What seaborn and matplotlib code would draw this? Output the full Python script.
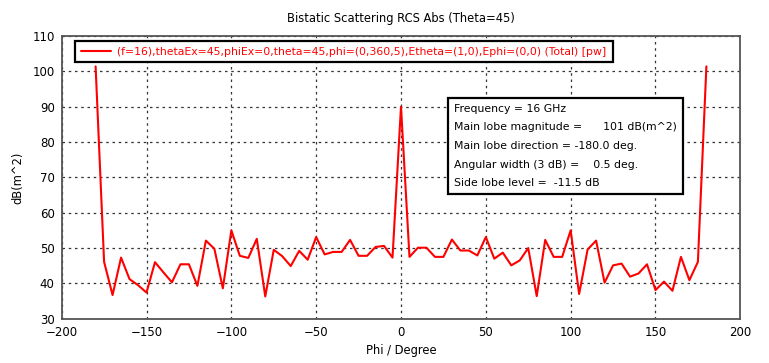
import matplotlib
matplotlib.use('Agg')
import matplotlib.pyplot as plt
import pandas as pd
import seaborn as sns

sns.set_style("white")
plt.rcParams['font.family'] = ['DejaVu Sans']
plt.rcParams['text.color'] = 'black'
plt.rcParams['axes.labelcolor'] = 'black'
plt.rcParams['xtick.color'] = 'black'
plt.rcParams['ytick.color'] = 'black'

# phi sweep mapped to -180..180 deg, step 5
phi = list(range(-180, 185, 5))
rcs = [101.4, 46.1, 36.7, 47.3, 41.2, 39.5, 37.4, 46.0, 43.1, 40.3,
       45.4, 45.4, 39.3, 52.1, 49.8, 38.6, 55.0, 47.8, 47.2, 52.6,
       36.3, 49.5, 47.7, 44.9, 49.2, 46.7, 53.1, 48.2, 48.9, 48.9,
       52.3, 47.8, 47.8, 50.3, 50.6, 47.3, 90.0, 47.5, 50.1, 50.1,
       47.5, 47.5, 52.4, 49.3, 49.3, 47.9, 53.1, 47.0, 48.7, 45.1,
       46.5, 50.0, 36.4, 52.3, 47.5, 47.5, 55.0, 37.0, 49.6, 52.1,
       40.2, 45.1, 45.6, 41.9, 42.8, 45.4, 38.1, 40.5, 37.9, 47.5,
       40.9, 46.1, 101.4]

legend_label = "(f=16),thetaEx=45,phiEx=0,theta=45,phi=(0,360,5),Etheta=(1,0),Ephi=(0,0) (Total) [pw]"
info_lines = [
    "Frequency = 16 GHz",
    "Main lobe magnitude =      101 dB(m^2)",
    "Main lobe direction = -180.0 deg.",
    "Angular width (3 dB) =    0.5 deg.",
    "Side lobe level =  -11.5 dB",
]

df = pd.DataFrame({'phi': phi, 'rcs': rcs})

fig = plt.figure(figsize=(7.69, 3.63), dpi=100)
ax = fig.add_axes([0.0802, 0.122, 0.8825, 0.7788])

sns.lineplot(data=df, x='phi', y='rcs', ax=ax, color='#ff0000', linewidth=1.5,
             label=legend_label)

ax.set_xlim(-200, 200)
ax.set_ylim(30, 110)
ax.set_xticks(range(-200, 201, 50))
ax.set_yticks(range(30, 111, 10))
ax.grid(True, linestyle=(0, (2, 3)), color='#333333', linewidth=0.9)
for s in ax.spines.values():
    s.set_color('#555555')
    s.set_linewidth(1.3)
ax.tick_params(axis='both', direction='out', length=3, width=1, color='#555555',
               labelsize=8.5, pad=2)

ax.set_title("Bistatic Scattering RCS Abs (Theta=45)", fontsize=8.3, pad=10)
ax.set_xlabel("Phi / Degree", fontsize=8.3, labelpad=4)
ax.set_ylabel("dB(m^2)", fontsize=8.3, labelpad=6)

leg = ax.legend(loc='upper left', bbox_to_anchor=(0.011, 1.003), fancybox=False,
                frameon=True, fontsize=7.8, labelcolor='#ff0000',
                handlelength=2.8, borderpad=0.55, handletextpad=0.6)
leg.get_frame().set_edgecolor('black')
leg.get_frame().set_linewidth(1.6)
leg.get_frame().set_alpha(1)

ax.text(0.578, 0.76, "\n".join(info_lines), transform=ax.transAxes,
        fontsize=7.8, va='top', ha='left', linespacing=2.08,
        bbox=dict(boxstyle='square,pad=0.55', facecolor='white',
                  edgecolor='black', linewidth=1.6))

plt.savefig('out.png', dpi=100)
plt.close()
